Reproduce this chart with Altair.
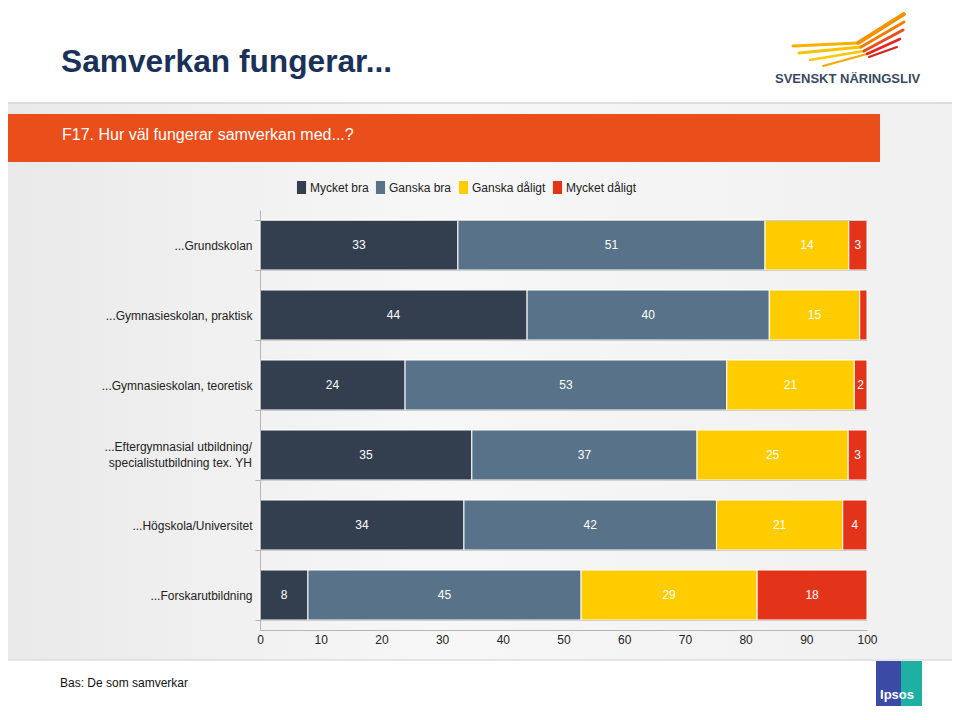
import altair as alt
import pandas as pd

# ---------------- data ----------------
categories = [
    "...Grundskolan",
    "...Gymnasieskolan, praktisk",
    "...Gymnasieskolan, teoretisk",
    "...Eftergymnasial utbildning/ specialistutbildning tex. YH",
    "...Högskola/Universitet",
    "...Forskarutbildning",
]
series = ["Mycket bra", "Ganska bra", "Ganska dåligt", "Mycket dåligt"]
mycket_bra = [32.6, 44.0, 23.9, 34.9, 33.6, 7.9]
ganska_bra = [50.6, 39.9, 53.0, 37.1, 41.6, 45.0]
ganska_daligt = [13.8, 14.9, 21.0, 24.9, 20.8, 29.0]
mycket_daligt = [3.0, 1.2, 2.1, 3.1, 4.0, 18.1]
x_ticks = [0, 10, 20, 30, 40, 50, 60, 70, 80, 90, 100]

title_text = "Samverkan fungerar..."
question_text = "F17. Hur väl fungerar samverkan med...?"
footer_text = "Bas: De som samverkar"
logo_text = "SVENSKT NÄRINGSLIV"

colors = ["#333f4e", "#587389", "#ffcc00", "#e3341a"]

rows = []
for s_i, (name, vals) in enumerate(zip(series, [mycket_bra, ganska_bra, ganska_daligt, mycket_daligt])):
    for c, v in zip(categories, vals):
        rows.append({"cat": c, "series": name, "value": v, "order": s_i})
df = pd.DataFrame(rows)
one = pd.DataFrame({"k": [0]})

# two-line category label, drawn as its own text layer
multi = [c for c in categories if "/ " in c]
multi_df = pd.DataFrame({"cat": multi, "lab": [c.replace("/ ", "/|") for c in multi]})

# plot area origin on the page: (260, 210)
OX, OY = 260, 210


def px(x):
    return x - OX


def py(y):
    return y - OY


# ---------------- decorations ----------------
bg_grad = alt.LinearGradient(
    gradient="linear",
    stops=[
        alt.GradientStop(color="#e9e9e9", offset=0),
        alt.GradientStop(color="#f7f7f7", offset=0.45),
        alt.GradientStop(color="#f0f0f0", offset=1),
    ],
    x1=0, x2=1, y1=0, y2=0,
)
background = alt.Chart(one).mark_rect(color=bg_grad).encode(
    x=alt.value(px(0)), x2=alt.value(px(960)), y=alt.value(py(103)), y2=alt.value(py(660))
)
top_line = alt.Chart(one).mark_rule(color="#d6d6d6", strokeWidth=1.5).encode(
    x=alt.value(px(0)), x2=alt.value(px(960)), y=alt.value(py(103))
)
bottom_line = alt.Chart(one).mark_rule(color="#dcdcdc", strokeWidth=1.5).encode(
    x=alt.value(px(0)), x2=alt.value(px(960)), y=alt.value(py(660))
)
band = alt.Chart(one).mark_rect(color="#e94e1b").encode(
    x=alt.value(px(0)), x2=alt.value(px(880)), y=alt.value(py(114)), y2=alt.value(py(162))
)
band_txt = alt.Chart(one).mark_text(
    text=question_text, color="white", fontSize=16, font="Liberation Sans", align="left", baseline="alphabetic"
).encode(x=alt.value(px(62)), y=alt.value(py(140)))
title = alt.Chart(one).mark_text(
    text=title_text, color="#1b3258", fontSize=31.7, fontWeight="bold", font="Liberation Sans",
    align="left", baseline="alphabetic"
).encode(x=alt.value(px(61)), y=alt.value(py(72)))
footer = alt.Chart(one).mark_text(
    text=footer_text, color="#111111", fontSize=12, font="Liberation Sans", align="left", baseline="alphabetic"
).encode(x=alt.value(px(60)), y=alt.value(py(687)))

# Svenskt Näringsliv logo (text + wing strokes)
logo_t = alt.Chart(one).mark_text(
    text=logo_text, color="#3a4a5e", fontSize=13, fontWeight="bold", font="Liberation Sans",
    align="left", baseline="alphabetic"
).encode(x=alt.value(px(775)), y=alt.value(py(83)))
wing = [
    ((793, 46), (858, 43), "#f9b000", 3),
    ((799, 53), (861, 47), "#fbc200", 3),
    ((810, 60), (864, 51), "#fcc800", 2.5),
    ((823, 66), (867, 54), "#f7a800", 2),
    ((858, 43), (904, 14), "#f39200", 4),
    ((861, 47), (904, 22), "#ef7d00", 3),
    ((864, 51), (903, 30), "#e84e1b", 3),
    ((867, 54), (900, 39), "#e2261d", 2.5),
    ((869, 57), (897, 47), "#d9201c", 2),
]
wing_layers = [
    alt.Chart(one).mark_rule(color=c, strokeWidth=w, strokeCap="round").encode(
        x=alt.value(px(a[0])), y=alt.value(py(a[1])), x2=alt.value(px(b[0])), y2=alt.value(py(b[1]))
    )
    for a, b, c, w in wing
]

# Ipsos logo
ips_blue = alt.Chart(one).mark_rect(color="#3b4aa4").encode(
    x=alt.value(px(876)), x2=alt.value(px(901)), y=alt.value(py(661)), y2=alt.value(py(706))
)
ips_teal = alt.Chart(one).mark_rect(color="#1fb0a4").encode(
    x=alt.value(px(901)), x2=alt.value(px(922)), y=alt.value(py(661)), y2=alt.value(py(706))
)
ips_txt = alt.Chart(one).mark_text(
    text="Ipsos", color="white", fontSize=13, fontWeight="bold", font="Liberation Sans",
    align="center", baseline="alphabetic"
).encode(x=alt.value(px(897)), y=alt.value(py(699)))

# ---------------- chart ----------------
base = alt.Chart(df).transform_stack(
    stack="value", groupby=["cat"], as_=["x0", "x1"], sort=[alt.SortField("order", order="ascending")]
).transform_calculate(mid="(datum.x0 + datum.x1) / 2")

y_enc = alt.Y(
    "cat:N",
    sort=categories,
    scale=alt.Scale(paddingInner=2 / 7, paddingOuter=1 / 7),
    axis=alt.Axis(
        title=None,
        tickBand="extent",
        grid=True,
        gridColor="#cfcfcf",
        domainColor="#b5b5b5",
        tickColor="#b5b5b5",
        tickSize=5,
        labelFontSize=12,
        labelFont="Liberation Sans",
        labelColor="#222222",
        labelPadding=3,
        labelLimit=400,
        labelExpr="indexof(datum.label, '/ ') >= 0 ? '' : datum.label",
        zindex=1,
    ),
)

bars = base.mark_bar(stroke="white", strokeWidth=1).encode(
    y=y_enc,
    x=alt.X(
        "x0:Q",
        scale=alt.Scale(domain=[0, 100], nice=False),
        axis=alt.Axis(
            values=x_ticks,
            title=None,
            ticks=False,
            grid=False,
            domainColor="#b5b5b5",
            labelFontSize=12,
            labelFont="Liberation Sans",
            labelColor="#222222",
            labelPadding=4,
            labelFlush=False,
            zindex=1,
        ),
    ),
    x2="x1:Q",
    color=alt.Color(
        "series:N",
        scale=alt.Scale(domain=series, range=colors),
        legend=alt.Legend(
            title=None,
            orient="none",
            legendX=35,
            legendY=-29,
            direction="horizontal",
            symbolType="M-0.7,-1H0.7V1H-0.7Z",
            symbolSize=169,
            symbolStrokeWidth=0,
            symbolOpacity=1,
            labelFontSize=12,
            labelFont="Liberation Sans",
            labelColor="#222222",
            columnPadding=5,
            labelOffset=2,
        ),
    ),
)

labels = base.transform_filter("datum.value >= 1.5").mark_text(
    color="white", fontSize=12, font="Liberation Sans", baseline="middle"
).encode(
    y=alt.Y("cat:N", sort=categories),
    x=alt.X("mid:Q"),
    text=alt.Text("value:Q", format=".0f"),
)

multi_label = alt.Chart(multi_df).mark_text(
    color="#222222", fontSize=12, font="Liberation Sans", align="right", baseline="middle",
    lineBreak="|", lineHeight=16, dy=-8,
).encode(
    y=alt.Y("cat:N", sort=categories),
    x=alt.value(-8),
    text="lab:N",
)

chart = alt.layer(
    background, top_line, bottom_line, band, band_txt, title, footer, logo_t, *wing_layers,
    ips_blue, ips_teal, ips_txt, bars, labels, multi_label
).properties(
    width=607,
    height=420,
    autosize=alt.AutoSizeParams(type="none"),
    padding={"left": 252, "top": 202, "right": 85, "bottom": 82},
).configure_view(stroke=None).configure(background="white")

chart.save("out.html", embed_options={"renderer": "svg", "actions": False})
